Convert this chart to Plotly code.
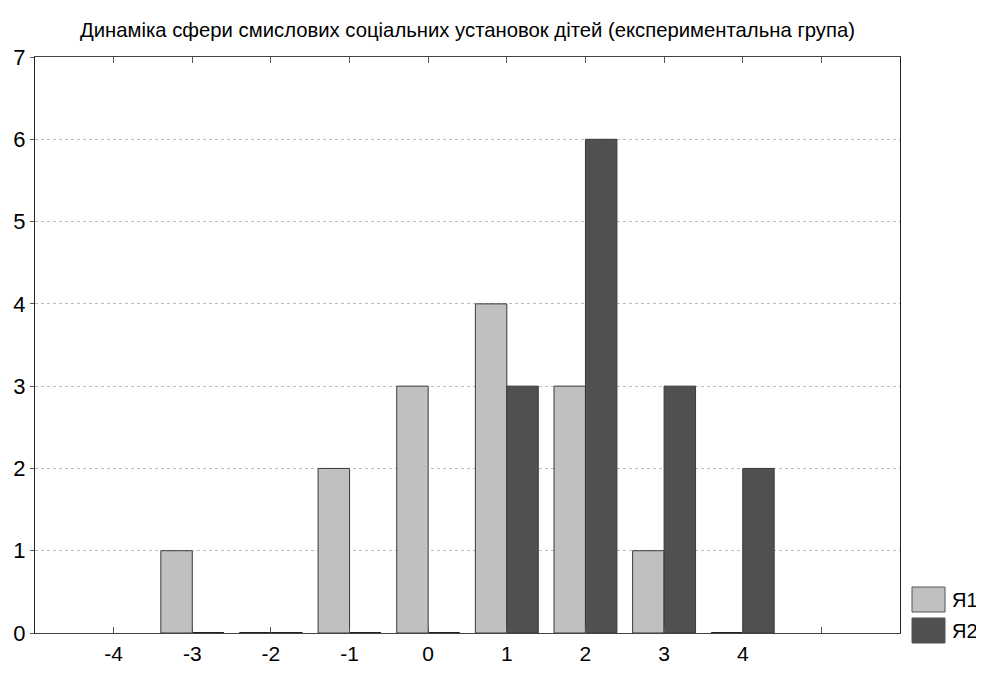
import plotly.graph_objects as go

categories = [-4, -3, -2, -1, 0, 1, 2, 3, 4]
ya1 = [None, 1, 0, 2, 3, 4, 3, 1, 0]
ya2 = [None, 0, 0, 0, 0, 3, 6, 3, 2]
series_names = ["Я1", "Я2"]
series_colors = ["#c0c0c0", "#505050"]
tick_vals = [-4, -3, -2, -1, 0, 1, 2, 3, 4, 5]
tick_text = ["-4", "-3", "-2", "-1", "0", "1", "2", "3", "4", ""]
title = "Динаміка сфери смислових соціальних установок дітей (експериментальна група)"

FONT = "Liberation Sans, Arial"

# page body has an 8px margin, so the figure is laid out 8px smaller
W, H = 976, 667
L, R, T, B = 27, 84, 49, 42
PW, PH = W - L - R, H - T - B

fig = go.Figure()
offsets = [-0.4, 0.0]
for name, vals, col, off in zip(series_names, [ya1, ya2], series_colors, offsets):
    fig.add_trace(go.Bar(
        x=categories, y=vals, name=name, width=0.4, offset=off,
        marker=dict(color=col, line=dict(color="#3a3a3a", width=1)),
        showlegend=False,
    ))
    # zero-value bars drawn as dark strokes on the baseline
    zx, zy = [], []
    for c, v in zip(categories, vals):
        if v == 0:
            zx += [c + off, c + off + 0.4, None]
            zy += [0, 0, None]
    fig.add_trace(go.Scatter(x=zx, y=zy, mode="lines",
                             line=dict(color="#202020", width=2),
                             showlegend=False, hoverinfo="skip"))

fig.update_layout(
    width=W, height=H,
    margin=dict(l=L, r=R, t=T, b=B),
    paper_bgcolor="white", plot_bgcolor="white",
    barmode="overlay",
    title=dict(text=title, x=(L + PW / 2) / W, xanchor="center", y=1 - 22 / H,
               yanchor="middle", font=dict(family=FONT, size=20.3, color="black")),
    font=dict(family=FONT, color="black"),
    showlegend=False,
)
fig.update_xaxes(
    range=[-5, 6], tickmode="array", tickvals=tick_vals, ticktext=tick_text,
    ticks="inside", ticklen=6, tickcolor="#555555", mirror="ticks",
    showline=True, linecolor="#444444", linewidth=1,
    showgrid=False, zeroline=False, automargin=False,
    tickfont=dict(family=FONT, size=21, color="black"),
    ticklabelstandoff=2,
)
fig.update_yaxes(
    range=[0, 7], dtick=1, ticks="outside", ticklen=4, tickcolor="#555555",
    showline=True, linecolor="#222222", linewidth=1, mirror=True,
    showgrid=True, gridcolor="#bdbdbd", griddash="dot", gridwidth=1,
    zeroline=False, automargin=False,
    tickfont=dict(family=FONT, size=22, color="black"),
)

# legend drawn at the right of the plot (pixel positions relative to the plot area)
leg_rows = [(530, 555), (561, 586)]
for (top, bot), name, col in zip(leg_rows, series_names, series_colors):
    fig.add_shape(type="rect", xref="paper", yref="paper",
                  x0=877 / PW, x1=910 / PW,
                  y0=(PH - bot) / PH, y1=(PH - top) / PH,
                  fillcolor=col, line=dict(color="#555555", width=1))
    fig.add_annotation(xref="paper", yref="paper", x=915 / PW,
                       y=(PH - (top + bot) / 2) / PH, text=name, showarrow=False,
                       xanchor="left", yanchor="middle",
                       font=dict(family=FONT, size=20, color="black"))

fig.write_html("out.html")
